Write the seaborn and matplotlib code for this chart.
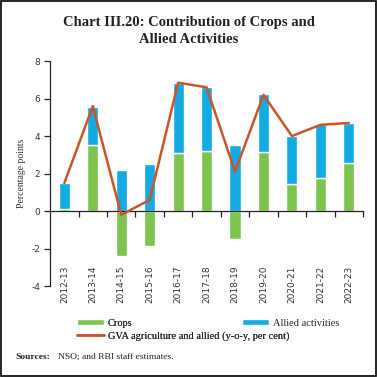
import matplotlib
matplotlib.use("Agg")
import matplotlib.pyplot as plt
import numpy as np
import seaborn as sns

# data
years = ["2012-13", "2013-14", "2014-15", "2015-16", "2016-17", "2017-18",
         "2018-19", "2019-20", "2020-21", "2021-22", "2022-23"]
crops = [0.1, 3.5, -2.4, -1.85, 3.1, 3.2, -1.46, 3.13, 1.47, 1.78, 2.58]
allied = [1.4, 2.06, 2.2, 2.5, 3.75, 3.4, 3.52, 3.1, 2.53, 2.86, 2.13]
gva = [1.5, 5.6, -0.2, 0.6, 6.85, 6.6, 2.1, 6.2, 4.0, 4.6, 4.7]

GREEN = "#7CC44E"
BLUE = "#12ABE2"
ORANGE = "#C9562A"

sns.set_theme(style="white")
plt.rcParams["axes.unicode_minus"] = False
plt.rcParams["font.family"] = ["DejaVu Sans"]
SERIF = "Liberation Serif"

fig = plt.figure(figsize=(3.77, 3.77), dpi=100)
ax = fig.add_axes([0.133, 0.241, 0.83, 0.597])

x = np.arange(len(years))
crops_a = np.array(crops)
base = np.where(crops_a > 0, crops_a, 0)
ax.bar(x, crops, width=0.39, color=GREEN, label="Crops", zorder=2)
ax.bar(x, allied, width=0.39, bottom=base, color=BLUE,
       label="Allied activities", zorder=2)
sns.lineplot(x=x, y=gva, ax=ax, color=ORANGE, linewidth=1.8,
             label="GVA agriculture and allied (y-o-y, per cent)", zorder=3)

ax.set_xlim(-0.5, 10.5)
ax.set_ylim(-4, 8)
ax.set_yticks([-4, -2, 0, 2, 4, 6, 8])

for s in ["top", "right"]:
    ax.spines[s].set_visible(False)
ax.spines["bottom"].set_position(("data", 0))
for s in ["left", "bottom"]:
    ax.spines[s].set_color("#222222")
    ax.spines[s].set_linewidth(0.9)

ax.set_xticks(x)
ax.set_xticklabels(years, rotation=90, fontsize=6.5, color="#333333")
ax.tick_params(axis="x", which="major", length=0, pad=39)
ax.set_xticks(np.arange(0.5, 11, 1), minor=True)
ax.tick_params(axis="x", which="minor", bottom=True, length=4, width=0.9,
               color="#222222")
ax.tick_params(axis="y", left=True, length=4, width=0.9, color="#222222",
               labelsize=6.5, labelcolor="#333333", pad=3)
ax.set_ylabel("Percentage points", fontsize=7, family=SERIF, color="#333333",
              labelpad=4)
ax.set_xlabel("")

handles, labels = ax.get_legend_handles_labels()
hmap = {l: h for h, l in zip(handles, labels)}
leg_kw = dict(frameon=False, loc="upper left", bbox_transform=fig.transFigure,
              prop={"family": SERIF, "size": 7.5}, handlelength=2.6,
              handleheight=0.5, labelspacing=0.3, handletextpad=0.4,
              borderpad=0)
left_names = ["Crops", "GVA agriculture and allied (y-o-y, per cent)"]
leg1 = ax.legend([hmap[n] for n in left_names], left_names,
                 bbox_to_anchor=(0.19, 0.168), **leg_kw)
ax.add_artist(leg1)
fig.legend([hmap["Allied activities"]], ["Allied activities"],
           bbox_to_anchor=(0.628, 0.168), **leg_kw)

fig.text(0.5, 0.918, "Chart III.20: Contribution of Crops and\nAllied Activities",
         ha="center", va="center", family=SERIF, fontsize=10.5,
         fontweight="bold", color="#222222", linespacing=1.45)
fig.text(0.042, 0.053, "Sources:", family=SERIF, fontsize=6.8,
         fontweight="bold", va="center", color="#222222")
fig.text(0.153, 0.053, "NSO; and RBI staff estimates.", family=SERIF,
         fontsize=6.8, va="center", color="#222222")

fig.patches.append(plt.Rectangle((0.002, 0.002), 0.996, 0.996, fill=False,
                                 edgecolor="black", linewidth=1.2,
                                 transform=fig.transFigure))

fig.savefig("out.png", dpi=100)
